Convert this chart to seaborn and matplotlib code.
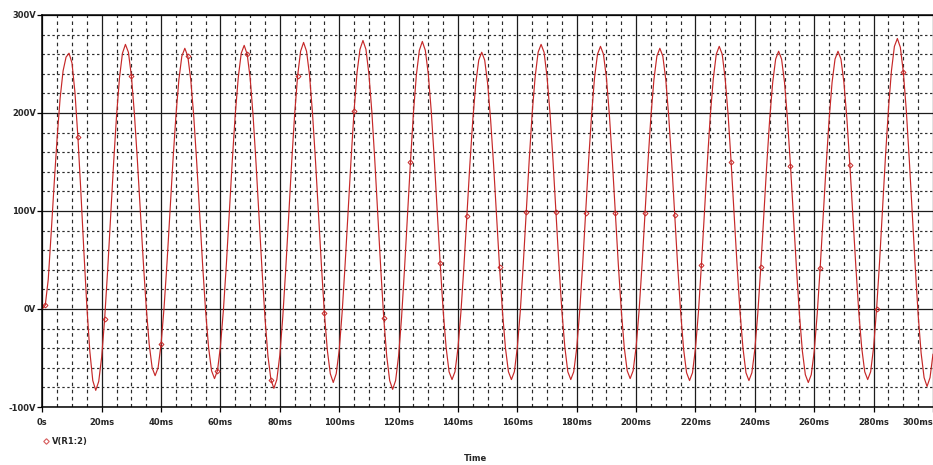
import numpy as np
import pandas as pd
import matplotlib
matplotlib.use("Agg")
import matplotlib.pyplot as plt
from matplotlib.lines import Line2D
from matplotlib.ticker import MultipleLocator, FixedLocator
import seaborn as sns

# Transient simulation of V(R1:2), sampled every 1 ms
time_ms = np.arange(0, 301, 1)
v_r1_2 = [
    0, 4, 30, 78, 128, 175, 215, 243, 257, 261,
    251, 221, 175, 119, 59, 3, -43, -73, -83, -74,
    -49, -10, 39, 94, 148, 197, 236, 261, 270, 262,
    238, 200, 153, 101, 49, 2, -36, -60, -68, -60,
    -36, 1, 47, 99, 151, 197, 234, 258, 266, 258,
    234, 197, 150, 97, 45, -2, -39, -63, -71, -63,
    -38, -1, 46, 99, 152, 199, 236, 261, 269, 260,
    236, 197, 148, 94, 40, -9, -48, -72, -81, -72,
    -47, -8, 41, 95, 150, 199, 238, 263, 272, 263,
    239, 200, 152, 98, 45, -4, -42, -66, -75, -66,
    -42, -3, 46, 100, 153, 202, 241, 265, 274, 265,
    240, 201, 151, 96, 41, -9, -48, -73, -82, -73,
    -48, -9, 41, 95, 150, 200, 239, 264, 273, 264,
    240, 202, 154, 100, 47, -1, -39, -64, -72, -64,
    -40, -3, 43, 95, 147, 193, 230, 254, 262, 254,
    230, 193, 147, 95, 43, -3, -40, -64, -72, -64,
    -39, -2, 46, 99, 152, 200, 237, 262, 270, 262,
    237, 200, 152, 99, 46, -2, -39, -64, -72, -64,
    -40, -2, 45, 98, 151, 198, 236, 260, 268, 260,
    236, 198, 151, 98, 46, -1, -39, -63, -71, -63,
    -39, -2, 45, 98, 150, 197, 234, 258, 266, 258,
    234, 196, 149, 96, 44, -3, -41, -65, -73, -65,
    -40, -3, 45, 98, 150, 198, 235, 260, 268, 260,
    235, 198, 150, 97, 45, -3, -40, -65, -73, -65,
    -41, -4, 43, 95, 147, 194, 231, 255, 263, 255,
    231, 193, 146, 94, 42, -5, -43, -67, -75, -67,
    -43, -5, 42, 94, 146, 193, 231, 255, 263, 255,
    231, 194, 147, 95, 44, -3, -40, -64, -72, -64,
    -39, 0, 48, 102, 156, 204, 243, 268, 276, 267,
    242, 203, 153, 98, 44, -6, -45, -70, -79, -70,
    -46,
]
marker_samples = [1, 12, 21, 30, 40, 49, 59, 69, 77, 86, 95, 105, 115, 124,
                  134, 143, 154, 163, 173, 183, 193, 203, 213, 222, 232, 242,
                  252, 262, 272, 281, 290]

x_ticks = [0, 20, 40, 60, 80, 100, 120, 140, 160, 180, 200, 220, 240, 260, 280, 300]
x_tick_labels = ["0s", "20ms", "40ms", "60ms", "80ms", "100ms", "120ms", "140ms",
                 "160ms", "180ms", "200ms", "220ms", "240ms", "260ms", "280ms", "300ms"]
y_ticks = [-100, 0, 100, 200, 300]
y_tick_labels = ["-100V", "0V", "100V", "200V", "300V"]
trace_label = "V(R1:2)"
x_title = "Time"

df = pd.DataFrame({"t": time_ms, "v": v_r1_2})

sns.set_style("white")
plt.rcParams["font.family"] = ["DejaVu Sans"]

W, H = 933, 465
fig = plt.figure(figsize=(W / 100, H / 100), dpi=100)
ax = fig.add_axes([42.3 / W, 58 / H, (W - 42.3) / W, 392 / H])

trace_color = "#c62828"
sns.lineplot(data=df, x="t", y="v", ax=ax, estimator=None, errorbar=None,
             color=trace_color, lw=0.85, marker="D", markevery=marker_samples,
             ms=2.5, mfc="none", mec=trace_color, mew=0.7, legend=False)

ax.set_xlim(0, 300)
ax.set_ylim(-100, 300)

ax.xaxis.set_major_locator(FixedLocator(x_ticks))
ax.yaxis.set_major_locator(FixedLocator(y_ticks))
ax.xaxis.set_minor_locator(MultipleLocator(5))
ax.yaxis.set_minor_locator(MultipleLocator(20))
ax.set_xticklabels(x_tick_labels)
ax.set_yticklabels(y_tick_labels)

ax.set_axisbelow(True)
ax.grid(which="major", color="#1c1c1c", lw=0.9, ls="-")
ax.xaxis.grid(which="minor", color="#2a2a2a", lw=0.85, ls=(0, (3, 3)))
ax.yaxis.grid(which="minor", color="#2a2a2a", lw=0.85, ls=(0, (2, 2.2)))

for side in ("left", "bottom", "top"):
    ax.spines[side].set_visible(True)
    ax.spines[side].set_color("black")
    ax.spines[side].set_linewidth(1.1)
ax.spines["right"].set_visible(False)

ax.tick_params(which="major", direction="out", length=3.8, width=0.9, color="black",
               labelsize=6, bottom=True, left=True)
ax.tick_params(which="minor", length=0)
ax.tick_params(axis="x", pad=4)
ax.tick_params(axis="y", pad=0.6)
for lab in ax.get_xticklabels() + ax.get_yticklabels():
    lab.set_fontweight("bold")
ax.get_xticklabels()[-1].set_horizontalalignment("right")

ax.set_xlabel("")
ax.set_ylabel("")

handle = Line2D([], [], ls="none", marker="D", ms=2.8, mfc="none",
                mec="#d65a5a", mew=0.8)
fig.legend([handle], [trace_label], loc="center left",
           bbox_to_anchor=(38 / W, 1 - 441 / H), frameon=False,
           handlelength=0.9, handletextpad=0.3, borderpad=0,
           prop={"size": 6, "weight": "bold"})

fig.text(475 / W, 1 - 458 / H, x_title, ha="center", va="center",
         fontsize=6, fontweight="bold")

fig.savefig("out.png", dpi=100, facecolor="white")
